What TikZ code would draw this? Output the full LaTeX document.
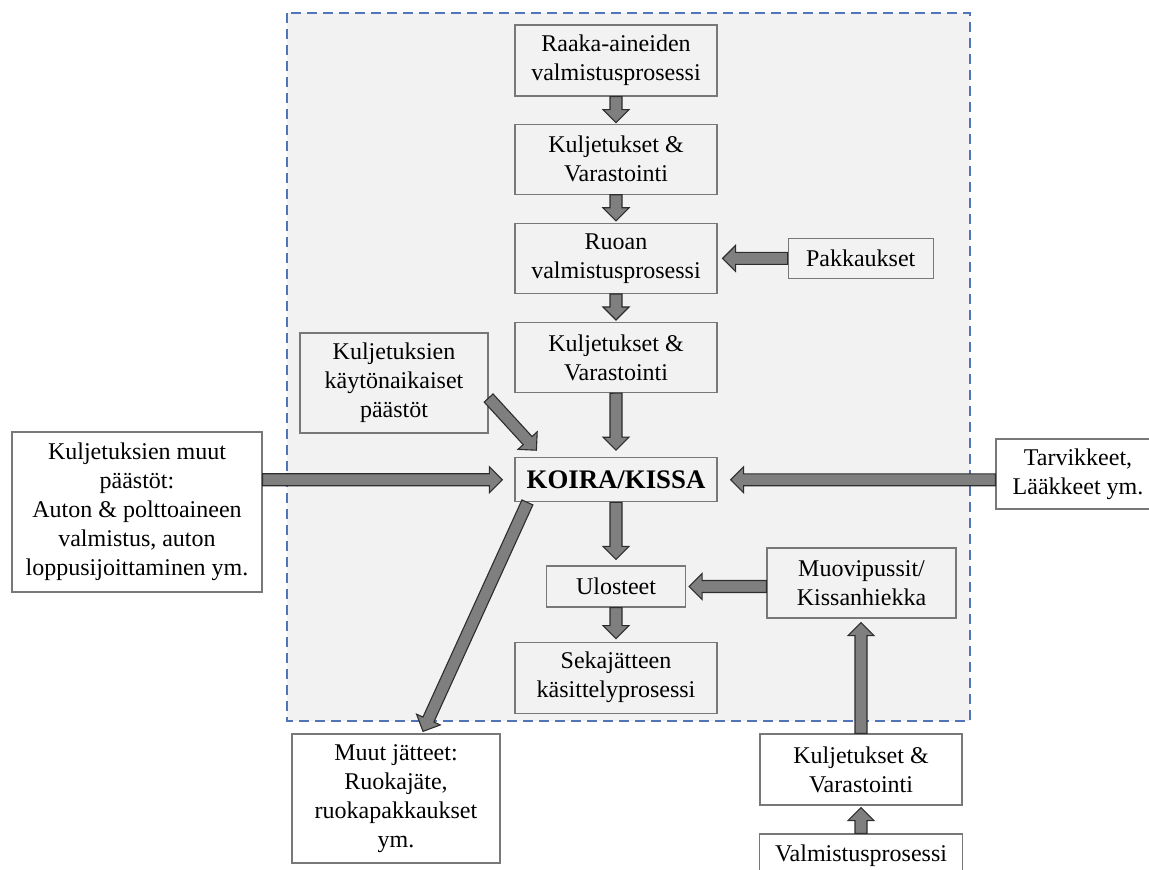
\documentclass[tikz,border=0pt]{standalone}
\usepackage{fontspec}
\setmainfont{Liberation Serif}
\usetikzlibrary{calc,positioning}
\definecolor{BoxGray}{RGB}{120,120,120}
\definecolor{ArrowFill}{RGB}{127,127,127}
\definecolor{ArrowLine}{RGB}{45,45,45}
\definecolor{AreaFill}{RGB}{242,242,242}
\definecolor{AreaLine}{RGB}{80,115,185}
\tikzset{
  proc/.style={draw=BoxGray,line width=0.6pt,inner sep=1pt,align=center,font=\fontsize{12}{14.5}\selectfont},
  outproc/.style={proc,fill=white},
  flowarrow/.style={draw=ArrowLine,fill=ArrowFill,line width=0.55pt,line join=miter},
  area/.style={draw=AreaLine,fill=AreaFill,line width=0.75pt,dash pattern=on 5pt off 3pt}
}
\newcommand{\blockarrow}[2]{%
  \draw[flowarrow] let \p1=#1, \p2=#2,
    \n1={atan2(\y2-\y1,\x2-\x1)}, \n2={veclen(\x2-\x1,\y2-\y1)} in
    (\p1) ++(\n1+90:3pt) -- ++(\n1:\n2-6.5pt) -- ++(\n1+90:3.5pt) -- (\p2)
    -- ++(\n1+225:9.19pt) -- ++(\n1+90:3.5pt) -- ++(\n1+180:\n2-6.5pt) -- cycle;}

\begin{document}
\begin{tikzpicture}[x=0.5pt,y=-0.5pt]
\useasboundingbox (0,0) rectangle (1149,870);
\clip (0,0) rectangle (1149,870);
\draw[area] (287,13) rectangle (970,721);
\node[proc,minimum width=101pt,minimum height=35.5pt] (raaka) at (616,60.5) {Raaka-aineiden\\valmistusprosessi};
\node[proc,minimum width=101pt,minimum height=35pt,below=13.5pt of raaka] (kulj1) {Kuljetukset \&\\Varastointi};
\node[proc,minimum width=101pt,minimum height=35pt,below=14pt of kulj1] (ruoan) {Ruoan\\valmistusprosessi};
\node[proc,minimum width=101pt,minimum height=35pt,below=14pt of ruoan] (kulj2) {Kuljetukset \&\\Varastointi};
\node[proc,minimum width=101pt,minimum height=22pt,below=32pt of kulj2,font=\fontsize{13.4}{16}\selectfont\bfseries] (koira) {KOIRA/KISSA};
\node[proc,minimum width=69.5pt,minimum height=20.5pt,below=31.5pt of koira] (ulos) {Ulosteet};
\node[proc,minimum width=101pt,minimum height=35.5pt,below=17pt of ulos] (seka) {Sekajätteen\\käsittelyprosessi};
\node[proc,minimum width=72.5pt,minimum height=20pt,right=35pt of ruoan] (pakk) {Pakkaukset};
\node[proc,minimum width=94pt,minimum height=50pt] (kaytto) at (394,383) {Kuljetuksien\\käytönaikaiset\\päästöt};
\node[outproc,minimum width=125pt,minimum height=80pt] (muut) at (137,512) {Kuljetuksien muut\\päästöt:\\Auton \& polttoaineen\\valmistus, auton\\loppusijoittaminen ym.};
\node[outproc,minimum width=82pt,minimum height=35pt] (tarv) at (1078,474) {Tarvikkeet,\\Lääkkeet ym.};
\node[proc,minimum width=94.5pt,minimum height=35pt] (muovi) at (861.5,583) {Muovipussit/\\Kissanhiekka};
\node[outproc,minimum width=104pt,minimum height=64.5pt] (jatteet) at (396,798.5) {Muut jätteet:\\Ruokajäte,\\ruokapakkaukset\\ym.};
\node[outproc,minimum width=101pt,minimum height=35.5pt] (kulj3) at (861,769.5) {Kuljetukset \&\\Varastointi};
\node[outproc,minimum width=101.5pt,minimum height=22pt] (valm) at (861,856) {Valmistusprosessi};
\blockarrow{(raaka.south)}{($(kulj1.north)+(0,-1)$)}
\blockarrow{(kulj1.south)}{($(ruoan.north)+(0,-2)$)}
\blockarrow{(ruoan.south)}{($(kulj2.north)+(0,-2)$)}
\blockarrow{(pakk.west)}{($(ruoan.east)+(5,0)$)}
\blockarrow{(kulj2.south)}{($(koira.north)+(0,-7)$)}
\blockarrow{($(kaytto.east)+(0,15)$)}{($(koira.north west)+(22,-7)$)}
\blockarrow{(muut.east |- koira.west)}{($(koira.west)+(-12,0)$)}
\blockarrow{(tarv.west |- koira.east)}{($(koira.east)+(13,0)$)}
\blockarrow{(koira.south)}{($(ulos.north)+(0,-6)$)}
\blockarrow{($(koira.south west)+(13,0)$)}{($(jatteet.north)+(27,-2)$)}
\blockarrow{(muovi.west |- ulos.east)}{($(ulos.east)+(3,0)$)}
\blockarrow{(ulos.south)}{($(seka.north)+(0,-3)$)}
\blockarrow{(kulj3.north)}{($(kulj3.north |- muovi.south)+(0,4)$)}
\blockarrow{(valm.north)}{($(kulj3.south)+(0,2)$)}
\end{tikzpicture}
\end{document}
